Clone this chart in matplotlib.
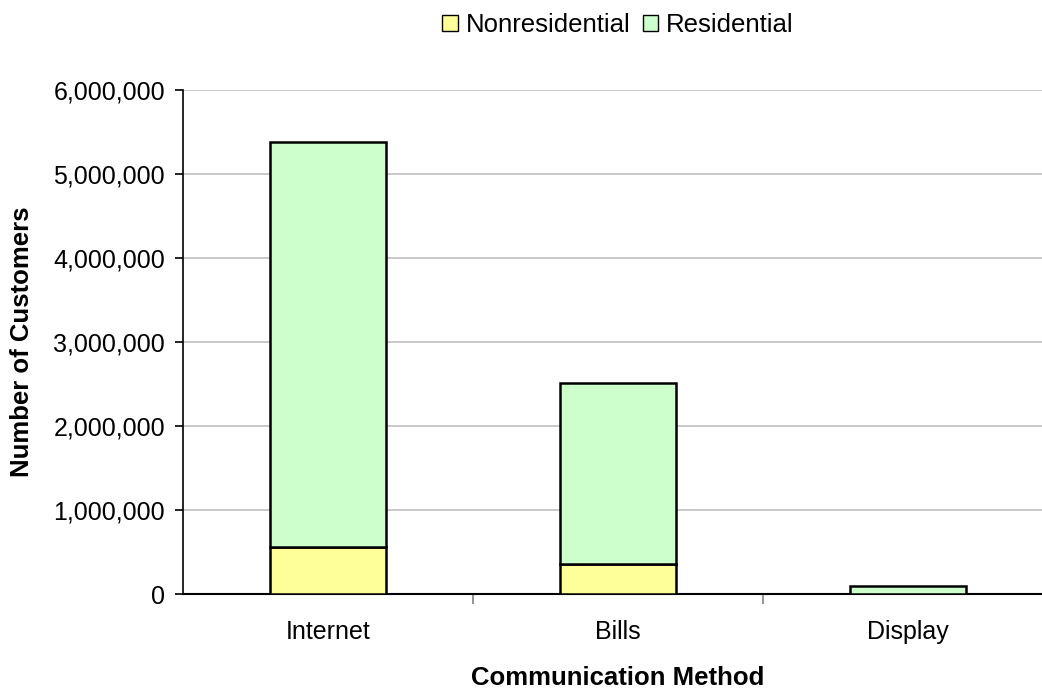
import matplotlib
matplotlib.use("Agg")
import matplotlib.pyplot as plt
from matplotlib.ticker import FuncFormatter
from matplotlib.patches import Patch

plt.rcParams['font.family'] = ['Liberation Sans', 'DejaVu Sans']

methods = ["Internet", "Bills", "Display"]
nonresidential = [563000, 354000, 0]
residential = [4822000, 2161000, 92000]

W, H = 1042, 688
fig = plt.figure(figsize=(W / 100, H / 100), dpi=100)
ax = fig.add_axes([183 / W, 1 - 594 / H, 1 - 183 / W, (594 - 90) / H])

x = range(len(methods))
ax.bar(x, nonresidential, width=0.4, color="#FFFF99", edgecolor="black", linewidth=1.8, zorder=3)
ax.bar(x, residential, width=0.4, bottom=nonresidential, color="#CCFFCC",
       edgecolor="black", linewidth=1.8, zorder=3)

ax.set_ylim(0, 6000000)
ax.set_xlim(-0.5, 2.462)
ax.set_yticks(range(0, 6000001, 1000000))
ax.yaxis.set_major_formatter(FuncFormatter(lambda v, p: f"{int(v):,}"))
ax.grid(axis="y", color="#c0c0c0", linewidth=1.2, zorder=0)

# category separators as major ticks, names on minor ticks
ax.set_xticks([0.5, 1.5], minor=False)
ax.set_xticklabels([])
ax.set_xticks(list(x), minor=True)
ax.set_xticklabels(methods, minor=True)
ax.tick_params(axis="x", which="minor", length=0, labelsize=18, pad=19)
ax.tick_params(axis="x", which="major", length=7, width=1.2, color="#808080")
ax.tick_params(axis="y", length=6, width=1.2, labelsize=18, pad=7)

for s in ["top", "right"]:
    ax.spines[s].set_visible(False)
ax.spines["left"].set_linewidth(1.2)
ax.spines["bottom"].set_linewidth(1.5)

fig.text(618 / W, 1 - 678 / H, "Communication Method", fontsize=18.5,
         fontweight="bold", ha="center", va="center")
fig.text(22 / W, 1 - 342 / H, "Number of Customers", fontsize=18.5,
         fontweight="bold", ha="center", va="center", rotation=90)

handles = [Patch(facecolor="#FFFF99", edgecolor="black"),
           Patch(facecolor="#CCFFCC", edgecolor="black")]
fig.legend(handles, ["Nonresidential", "Residential"], loc="center",
           bbox_to_anchor=(618 / W, 1 - 25 / H), ncol=2, frameon=False,
           fontsize=18.5, handlelength=0.6, handleheight=0.6, handletextpad=0.3,
           columnspacing=0.5)

fig.savefig("out.png", dpi=100)
